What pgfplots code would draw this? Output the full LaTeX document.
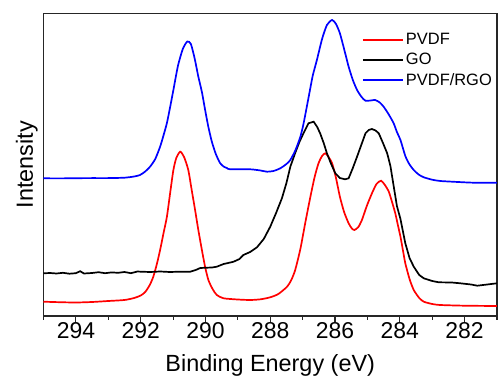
\documentclass[border=0pt]{standalone}
\usepackage{fontspec}
\setmainfont{Liberation Sans}
\usepackage{pgfplots}
\pgfplotsset{compat=1.18}
\begin{document}
\begin{tikzpicture}
\begin{axis}[
  width=453.5bp, height=302.5bp, scale only axis,
  xmin=281, xmax=295, x dir=reverse,
  ymin=0, ymax=302.5,
  xtick={282,284,286,288,290,292,294},
  minor xtick={281,283,285,287,289,291,293,295},
  ytick=\empty,
  minor ytick={0,27.5,55,82.5,110,137.5,165,192.5,220,247.5,275,302.5},
  xtick pos=lower, ytick pos=left,
  xtick align=outside, ytick align=inside,
  major tick length=6bp, minor tick length=3.5bp,
  axis line style={line width=1.2bp, black!85},
  every tick/.style={line width=1.1bp, black!85},
  /pgf/number format/assume math mode=true,
  tick label style={font=\fontsize{23}{27}\selectfont},
  xticklabel style={anchor=base, yshift=-16bp},
  xlabel={Binding Energy (eV)},
  ylabel={Intensity},
  label style={font=\fontsize{23.5}{28}\selectfont},
  xlabel style={at={(axis description cs:0.5,-0.1841)}, anchor=base},
  ylabel style={at={(axis description cs:-0.005,0.5)}, anchor=south},
  legend style={draw=none, fill=none, at={(rel axis cs:1,1)}, anchor=north east,
    font=\fontsize{16.5}{19.5}\selectfont, xshift=0bp, yshift=-15.6bp, row sep=3.3bp},
  legend cell align=left,
  legend image code/.code={\draw[#1, line width=2bp] (0bp,0bp) -- (40bp,0bp);},
  every axis plot/.append style={line width=1.7bp},
]
\addplot[red, smooth, tension=0.4] coordinates {
(295.0,14.3) (294.5,13.8) (294.0,13.5) (293.5,14.0) (293.0,15.0) (292.5,16.0)
(292.2,18.0) (292.0,20.5) (291.86,24) (291.72,31) (291.61,39.3) (291.50,52)
(291.40,66) (291.30,82) (291.19,99.3) (291.09,123) (290.99,146) (290.90,158)
(290.78,164.3) (290.66,159) (290.53,146) (290.43,127) (290.32,106) (290.22,86)
(290.11,66) (290.01,49) (289.91,36) (289.78,27) (289.65,21) (289.44,17.7)
(289.0,16.5) (288.62,16) (288.3,16.7) (288.0,18.7) (287.75,22) (287.48,29.3)
(287.35,36) (287.23,46) (287.07,67) (286.92,93) (286.76,119.3) (286.63,139)
(286.51,152.7) (286.40,160) (286.30,162.7) (286.20,159) (286.09,152.7)
(285.97,138) (285.85,119.3) (285.72,104) (285.58,92.7) (285.48,87.5)
(285.40,86) (285.28,89) (285.17,96) (285.02,110) (284.86,122.7) (284.72,132)
(284.58,135.3) (284.46,131) (284.34,124.3) (284.24,114) (284.14,102.7)
(284.06,91) (283.98,79.3) (283.90,65) (283.83,52.7) (283.70,37) (283.57,26)
(283.40,18) (283.26,14.3) (283.0,12) (282.75,11) (282.0,10.3) (281.0,10)
};
\addlegendentry{PVDF}
\addplot[black] coordinates {
(295.0,42.7) (294.8,43.0) (294.6,42.5) (294.4,43.2) (294.2,42.3) (294.0,42.8)
(293.87,44.8) (293.75,42.5) (293.5,43.0) (293.3,43.8) (293.1,42.8) (292.9,43.6)
(292.7,43.2) (292.5,44.0) (292.3,42.8) (292.1,44.5) (292.0,44.3) (291.7,44.0)
(291.4,44.5) (291.1,44.0) (290.8,44.3) (290.47,44.3) (290.3,46) (290.16,48)
(289.96,48.3) (289.8,48.5) (289.65,49.3) (289.44,52) (289.3,53) (289.13,54.3)
(288.95,57) (288.83,61) (288.62,64) (288.41,68.7) (288.2,77) (288.0,89.3)
(287.82,103) (287.64,117.7) (287.5,133) (287.38,149.3) (287.23,163) (287.1,174)
(286.97,183) (286.82,192.7) (286.66,194.3) (286.55,189) (286.46,182.7)
(286.35,173) (286.25,162.7) (286.12,152) (285.99,142.7) (285.85,138)
(285.69,136.7) (285.58,137.7) (285.45,148) (285.32,159.3) (285.19,171)
(285.06,182.7) (284.96,186) (284.86,187) (284.75,185.5) (284.65,182.7)
(284.52,173) (284.39,162.7) (284.29,150) (284.19,130) (284.09,110) (283.98,97)
(283.83,72.7) (283.70,58) (283.57,49.3) (283.40,41) (283.26,37.7) (283.0,35)
(282.80,33.7) (282.4,33.5) (282.13,32.7) (281.8,31.5) (281.61,30.3)
(281.3,31.5) (281.0,32.7)
};
\addlegendentry{GO}
\addplot[blue, smooth, tension=0.4] coordinates {
(295.0,137.7) (294.5,137.6) (294.0,137.8) (293.5,137.9) (293.0,137.9)
(292.5,138.3) (292.2,139.5) (292.02,141) (291.86,144.5) (291.71,149.3)
(291.55,157) (291.40,169.3) (291.30,180) (291.19,193) (291.09,209) (290.99,226)
(290.85,250) (290.70,267) (290.56,274.5) (290.45,272) (290.33,257)
(290.22,239.3) (290.11,224) (290.01,206) (289.91,189) (289.80,174)
(289.68,162) (289.55,153) (289.44,149.5) (289.34,148) (289.24,146.7)
(288.62,146.7) (288.30,145.5) (288.10,144.3) (287.90,145) (287.69,147.7)
(287.50,152) (287.38,156) (287.22,166) (287.07,179.3) (286.97,192.7)
(286.82,218) (286.69,240) (286.56,256) (286.40,277) (286.25,291) (286.09,296)
(285.97,292) (285.85,282.7) (285.72,267) (285.58,249.3) (285.45,236)
(285.32,226) (285.18,219) (285.06,215.3) (284.90,215.5) (284.76,216)
(284.62,213.5) (284.50,209.3) (284.35,202) (284.19,192.7) (284.09,184)
(283.98,176) (283.83,160) (283.70,151.5) (283.57,146) (283.42,141.5)
(283.26,138.7) (283.0,136.3) (282.75,135) (282.2,134) (281.72,133.3)
(281.0,133.3)
};
\addlegendentry{PVDF/RGO}
\node[font=\fontsize{23}{27}\selectfont] at (rel axis cs:0,1) [xshift=-24.5bp, yshift=-17.5bp] {(b)};
\end{axis}
\pgfresetboundingbox
\useasboundingbox ([shift={(-43.5bp,-61bp)}]current axis.south west) rectangle ([shift={(1bp,13.5bp)}]current axis.north east);
\end{tikzpicture}
\end{document}
